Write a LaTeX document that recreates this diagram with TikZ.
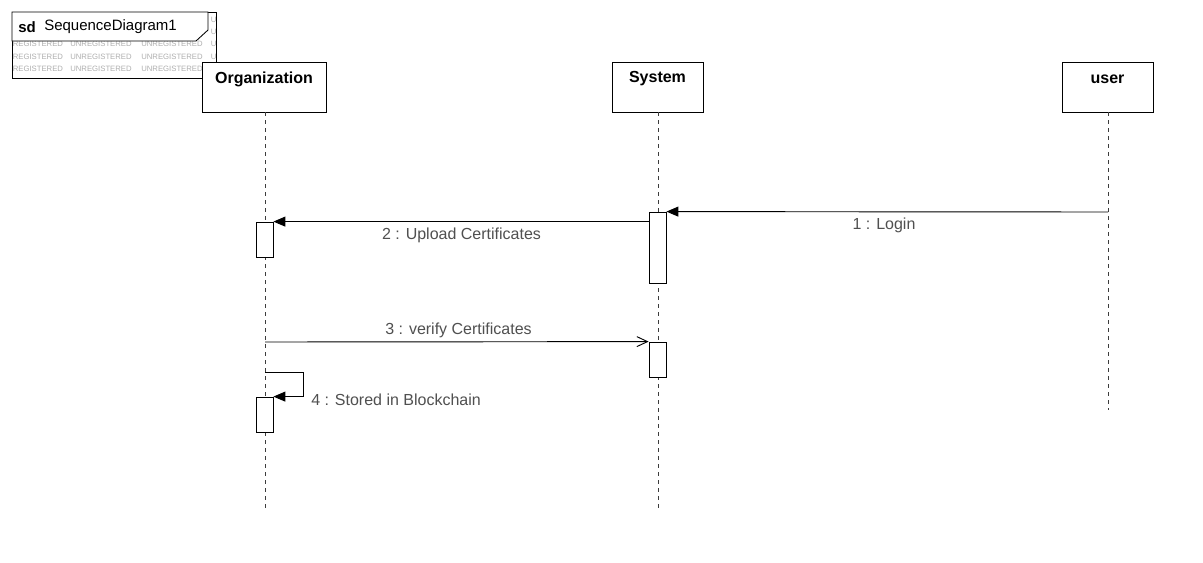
\documentclass[tikz,border=0pt]{standalone}
\usepackage{fontspec}
\setmainfont{Liberation Sans}
\usetikzlibrary{arrows.meta}
\definecolor{txtgray}{RGB}{80,80,80}
\definecolor{wmgray}{RGB}{175,175,175}
\definecolor{lifegray}{RGB}{60,60,60}
\begin{document}
\begin{tikzpicture}[x=0.75pt,y=-0.75pt,
  head/.style={draw=black,line width=0.65pt,fill=white,minimum height=37.5pt,inner sep=0pt},
  headtxt/.style={font=\fontsize{12}{14}\selectfont\bfseries,inner sep=0pt},
  act/.style={draw=black,line width=0.6pt,fill=white,minimum width=12.75pt,inner sep=0pt},
  life/.style={draw=lifegray,line width=0.6pt,dash pattern=on 3pt off 3pt},
  msg/.style={draw=black,line width=0.7pt,-{Triangle[length=9pt,width=7.5pt]}},
  asyncmsg/.style={draw=black,line width=0.7pt,-{Straight Barb[length=8pt,width=7.5pt,line width=0.7pt]}},
  lbl/.style={font=\fontsize{12}{14}\selectfont,text=txtgray,inner sep=0pt},
  wm/.style={font=\fontsize{5.8}{6}\selectfont,text=wmgray,inner sep=0pt,anchor=west}
]
\useasboundingbox (0,0) rectangle (1203,562);
\fill[white] (0,0) rectangle (1203,562);

% frame with watermark
\foreach \yy/\i in {44/1,57/2,69/3}{
  \node[wm] (wa\i) at (12.5,\yy) {REGISTERED};
  \node[wm] (wb\i) at (70,\yy) {UNREGISTERED};
  \node[wm] (wc\i) at (141,\yy) {UNREGISTERED};
  \node[wm] (wd\i) at (210.5,\yy) {U};
}
\node[wm] (we1) at (210.5,20) {U};
\node[wm] (we2) at (210.5,32) {U};
\draw[line width=0.65pt] (12,12) rectangle (216,78);
\filldraw[fill=white,draw=black,line width=0.65pt] (12,12) -- (208,12) -- (208,30) -- (196,41) -- (12,41) -- cycle;
\node[font=\fontsize{11.25}{13}\selectfont\bfseries,anchor=west,inner sep=0pt] (sdk) at (18,27) {sd};
\node[font=\fontsize{11.25}{13}\selectfont,anchor=west,inner sep=0pt] (sdname) at (44,27) {SequenceDiagram1};

% lifeline heads
\node[head,minimum width=93pt] (org) at (264,87) {};
\node[headtxt] (orgt) at (264,79) {Organization};
\node[head,minimum width=68.25pt] (sys) at (657.5,87) {};
\node[headtxt] (syst) at (657.5,79) {System};
\node[head,minimum width=68.25pt] (usr) at (1107.5,87) {};
\node[headtxt] (usrt) at (1107.5,79) {user};

% lifelines
\coordinate (orgend) at (265,512);
\coordinate (sysend) at (658,512);
\coordinate (usrend) at (1108,410);
\draw[life] (org.south -| orgend) -- (orgend);
\draw[life] (sys.south -| sysend) -- (sysend);
\draw[life] (usr.south -| usrend) -- (usrend);

% activations
\node[act,minimum height=53.25pt] (sa1) at (657.5,247.5) {};
\node[act,minimum height=26.25pt] (oa1) at (264.5,239.5) {};
\node[act,minimum height=26.25pt] (sa2) at (657.5,359.5) {};
\node[act,minimum height=26.25pt] (oa2) at (264.5,414.5) {};

% messages
\coordinate (u1) at (1108,212);
\draw[msg] (u1) -- (sa1.north east);
\node[lbl] (m1) at (884,225) {1 : Login};

\draw[msg] (oa1.north east -| sa1.west) -- (oa1.north east);
\node[lbl] (m2) at (461.5,235) {2 : Upload Certificates};

\coordinate (o3) at (265,342);
\draw[asyncmsg] (o3) -- (sa2.north west);
\node[lbl] (m3) at (458.5,330) {3 : verify Certificates};

\coordinate (o4) at (265,372);
\draw[msg] (o4) -- ++(38,0) |- (oa2.north east);
\node[lbl,anchor=west] (m4) at (311,400) {4 : Stored in Blockchain};
\end{tikzpicture}
\end{document}
